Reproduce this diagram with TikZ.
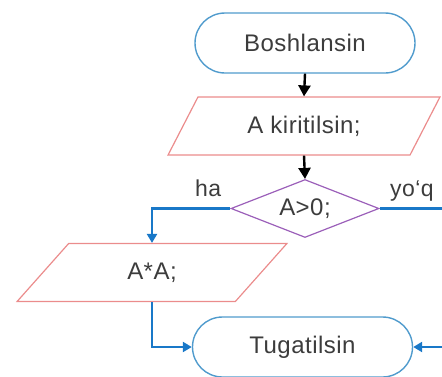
\documentclass[tikz,border=0pt]{standalone}
\usepackage{fontspec}
\setmainfont{Liberation Sans}[LetterSpace=2]
\usetikzlibrary{shapes.geometric,arrows.meta}
\definecolor{termblue}{RGB}{80,155,205}
\definecolor{iopink}{RGB}{235,140,140}
\definecolor{condpurple}{RGB}{155,95,185}
\definecolor{flowblue}{RGB}{25,120,200}
\definecolor{txtgray}{RGB}{60,60,60}
\begin{document}
\begin{tikzpicture}[x=1pt,y=-1pt,
  every node/.style={text=txtgray,font=\fontsize{24}{28}\selectfont},
  term/.style={draw=termblue,line width=1.4pt,rounded corners=30pt,minimum width=220pt,minimum height=60pt,inner sep=0pt},
  iobox/.style={draw=iopink,line width=1.2pt,trapezium,trapezium left angle=52,trapezium right angle=128,trapezium stretches=true,minimum width=272pt,minimum height=58pt,inner sep=0pt},
  cond/.style={draw=condpurple,line width=1.2pt,diamond,aspect=2.55,minimum width=148pt,minimum height=58pt,inner sep=0pt},
  blackflow/.style={line width=2.4pt,black,-{Triangle[length=11pt,width=12pt]}},
  blueflow/.style={line width=2.8pt,flowblue,-{Triangle[length=9pt,width=10pt]}},
  blueline/.style={line width=2.8pt,flowblue},
  lbl/.style={inner sep=0pt,font=\fontsize{23}{27}\selectfont}]
\useasboundingbox (0,0) rectangle (442,376);
\node[term] (start) at (305,43) {Boshlansin};
\node[iobox] (inp) at (304,126) {A kiritilsin;};
\node[cond] (c) at (305,208.5) {A>0;};
\node[iobox] (sq) at (152,272.5) {A*A;};
\node[term] (stop) at (302.5,347) {Tugatilsin};
\coordinate (rt) at (460,208.5);
\coordinate (rb) at (460,347);
\draw[blackflow] (start.south) -- (inp.north);
\draw[blackflow] (inp.south) -- (c.north);
\draw[blueflow] (c.west) -| (sq.north);
\draw[blueflow] (sq.south) |- (stop.west);
\draw[blueline] (c.east) -- (rt);
\draw[blueflow] (rb) -- (stop.east);
\node[lbl,anchor=base west] (ha) at (195,196) {ha};
\node[lbl,anchor=base west] (yoq) at (390,196) {yo‘q};
\end{tikzpicture}
\end{document}
